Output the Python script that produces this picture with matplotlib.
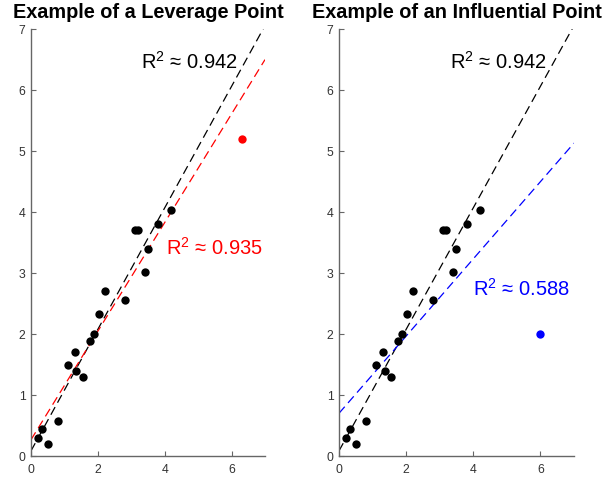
import numpy as np
import matplotlib
matplotlib.use('Agg')
import matplotlib.pyplot as plt

plt.rcParams['font.family'] = ['Liberation Sans', 'DejaVu Sans']
plt.rcParams['mathtext.fontset'] = 'custom'
plt.rcParams['mathtext.rm'] = 'Liberation Sans'
plt.rcParams['mathtext.it'] = 'Liberation Sans'

# ── Data ─────────────────────────────────────────────────────────────────────
x_base = [0.21, 0.34, 0.51, 0.81, 1.11, 1.31, 1.36, 1.56, 1.76, 1.89,
          2.04, 2.20, 2.80, 3.10, 3.20, 3.40, 3.50, 3.80, 4.20]
y_base = [0.30, 0.44, 0.20, 0.58, 1.50, 1.70, 1.40, 1.30, 1.88, 2.00,
          2.33, 2.70, 2.55, 3.70, 3.70, 3.02, 3.40, 3.80, 4.04]

leverage_pt = (6.3, 5.2)
influential_pt = (6.0, 2.0)

r2_base = 0.942
r2_leverage = 0.935
r2_influential = 0.588

titles = ['Example of a Leverage Point', 'Example of an Influential Point']

# ── Helpers ──────────────────────────────────────────────────────────────────
def fit_line(x, y):
    slope, icpt = np.polyfit(x, y, 1)
    xx = np.array([0.0, 7.0])
    return xx, slope * xx + icpt

def style_axes(ax):
    ax.set_xlim(0, 7)
    ax.set_ylim(0, 7)
    ax.set_xticks([0, 2, 4, 6])
    ax.set_yticks(range(8))
    ax.spines['top'].set_visible(False)
    ax.spines['right'].set_visible(False)
    for s in ('left', 'bottom'):
        ax.spines[s].set_color('0.4')
        ax.spines[s].set_linewidth(1.0)
    ax.tick_params(direction='in', length=3.5, width=0.8, color='0.4',
                   labelsize=8.8, labelcolor='0.2')
    ax.tick_params(axis='x', pad=6)
    ax.tick_params(axis='y', pad=4)

fig = plt.figure(figsize=(6.05, 4.83), dpi=100, facecolor='white')
ax1 = fig.add_axes([0.0512, 0.0559, 0.3868, 0.884])
ax2 = fig.add_axes([0.5603, 0.0559, 0.3884, 0.884])

xb = np.array(x_base)
yb = np.array(y_base)

panels = [
    (ax1, leverage_pt, 'red', r2_leverage, (4.05, 3.41)),
    (ax2, influential_pt, 'blue', r2_influential, (3.99, 2.74)),
]

for (ax, pt, col, r2, txt_pos), title in zip(panels, titles):
    # fit without the extra point
    lx, ly = fit_line(xb, yb)
    ax.plot(lx, ly, color='black', lw=0.9, dashes=(7, 4))
    # fit including the extra point
    xa = np.append(xb, pt[0])
    ya = np.append(yb, pt[1])
    lx2, ly2 = fit_line(xa, ya)
    ax.plot(lx2, ly2, color=col, lw=0.9, dashes=(7, 4))

    ax.plot(xb, yb, 'o', color='black', ms=6, mec='none')
    ax.plot(pt[0], pt[1], 'o', color=col, ms=6, mec='none')

    ax.text(3.3, 6.46, rf'R$^2$ ≈ {r2_base:.3f}', fontsize=14.5,
            ha='left', va='center', color='black')
    ax.text(txt_pos[0], txt_pos[1], rf'R$^2$ ≈ {r2:.3f}', fontsize=14.5,
            ha='left', va='center', color=col)

    ax.set_title(title, fontsize=14.3, fontweight='bold', pad=8)
    style_axes(ax)

fig.savefig('out.png', dpi=100, facecolor='white')
